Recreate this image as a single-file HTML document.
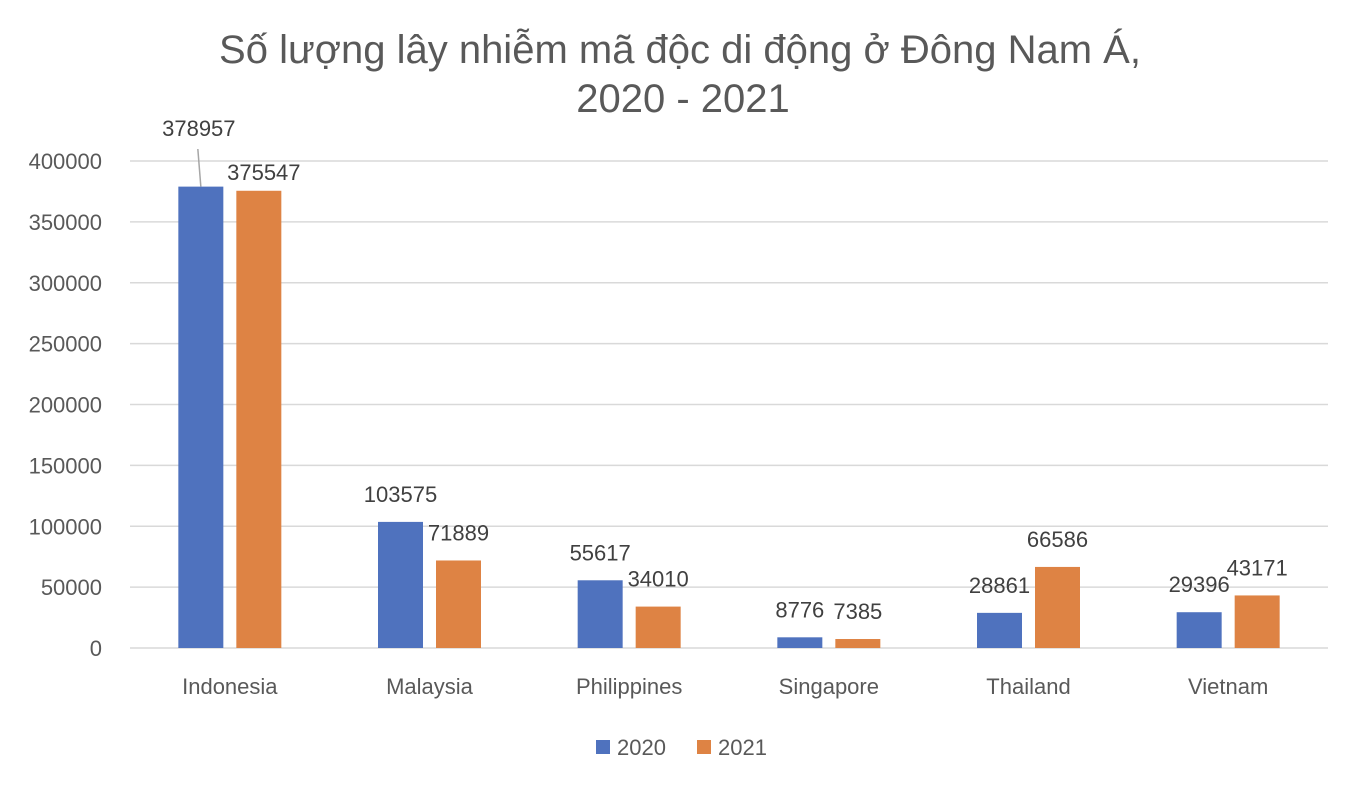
<!DOCTYPE html>
<html><head><meta charset="utf-8"><style>
body{margin:0;background:#fff;}
svg text{font-family:"Liberation Sans",sans-serif;}
</style></head><body>
<svg id="chart" width="1358" height="792" xmlns="http://www.w3.org/2000/svg">
<text x="680" y="63" text-anchor="middle" font-size="40" fill="#595959">Số lượng lây nhiễm mã độc di động ở Đông Nam Á,</text>
<text x="683" y="112" text-anchor="middle" font-size="40" fill="#595959">2020 - 2021</text>
<g id="grid"></g><g id="bars"></g><g id="labels"></g>
<g>
<rect x="596" y="740" width="14" height="14" fill="#4f72be"/>
<text x="617" y="755" font-size="22" fill="#595959">2020</text>
<rect x="697" y="740" width="14" height="14" fill="#de8344"/>
<text x="718" y="755" font-size="22" fill="#595959">2021</text>
</g>
</svg>
<script>
const categories=["Indonesia","Malaysia","Philippines","Singapore","Thailand","Vietnam"];
const series2020=[378957,103575,55617,8776,28861,29396];
const series2021=[375547,71889,34010,7385,66586,43171];
const yTicks=[0,50000,100000,150000,200000,250000,300000,350000,400000];
const NS="http://www.w3.org/2000/svg";
const x0=130,x1=1328,y0=648,ytop=161,ymax=400000;
const yS=v=>y0-(v/ymax)*(y0-ytop);
const bw=(x1-x0)/categories.length;
const xC=i=>x0+bw*(i+0.5);
function mk(t,a,p,txt){const e=document.createElementNS(NS,t);for(const k in a)e.setAttribute(k,a[k]);if(txt!==undefined)e.textContent=txt;p.appendChild(e);return e;}
const grid=document.getElementById('grid'),bars=document.getElementById('bars'),labels=document.getElementById('labels');
yTicks.forEach(v=>{
 const l=mk('line',{x1:x0,x2:x1,y1:yS(v),y2:yS(v),stroke:'#d9d9d9','stroke-width':1.5},grid);
 
 
 const t=mk('text',{x:102,y:yS(v)+8,'text-anchor':'end','font-size':22,fill:'#595959'},grid,String(v));
 
 
});
categories.forEach((c,i)=>{
 const t=mk('text',{x:xC(i),y:694,'text-anchor':'middle','font-size':22,fill:'#595959'},grid,c);
 
 
 [[series2020,'#4f72be',-29,'2020'],[series2021,'#de8344',29,'2021']].forEach(([s,col,off,yr])=>{
  const v=s[i],cx=xC(i)+off;
  const r=mk('rect',{x:cx-22.5,y:yS(v),width:45,height:y0-yS(v),fill:col},bars);
  
  
  let lx=cx,ly=yS(v)-20;
  if(i===0&&yr==='2020'){lx=cx-2;ly=136;
   const ln=mk('line',{x1:cx-3,y1:149,x2:cx,y2:yS(v),stroke:'#a6a6a6','stroke-width':1.5},labels);
   
   }
  if(i===0&&yr==='2021'){lx=cx+5;ly=yS(v)-11;}
  const tl=mk('text',{x:lx,y:ly,'text-anchor':'middle','font-size':22,fill:'#404040'},labels,String(v));
  
  
 });
});
</script>
</body></html>
